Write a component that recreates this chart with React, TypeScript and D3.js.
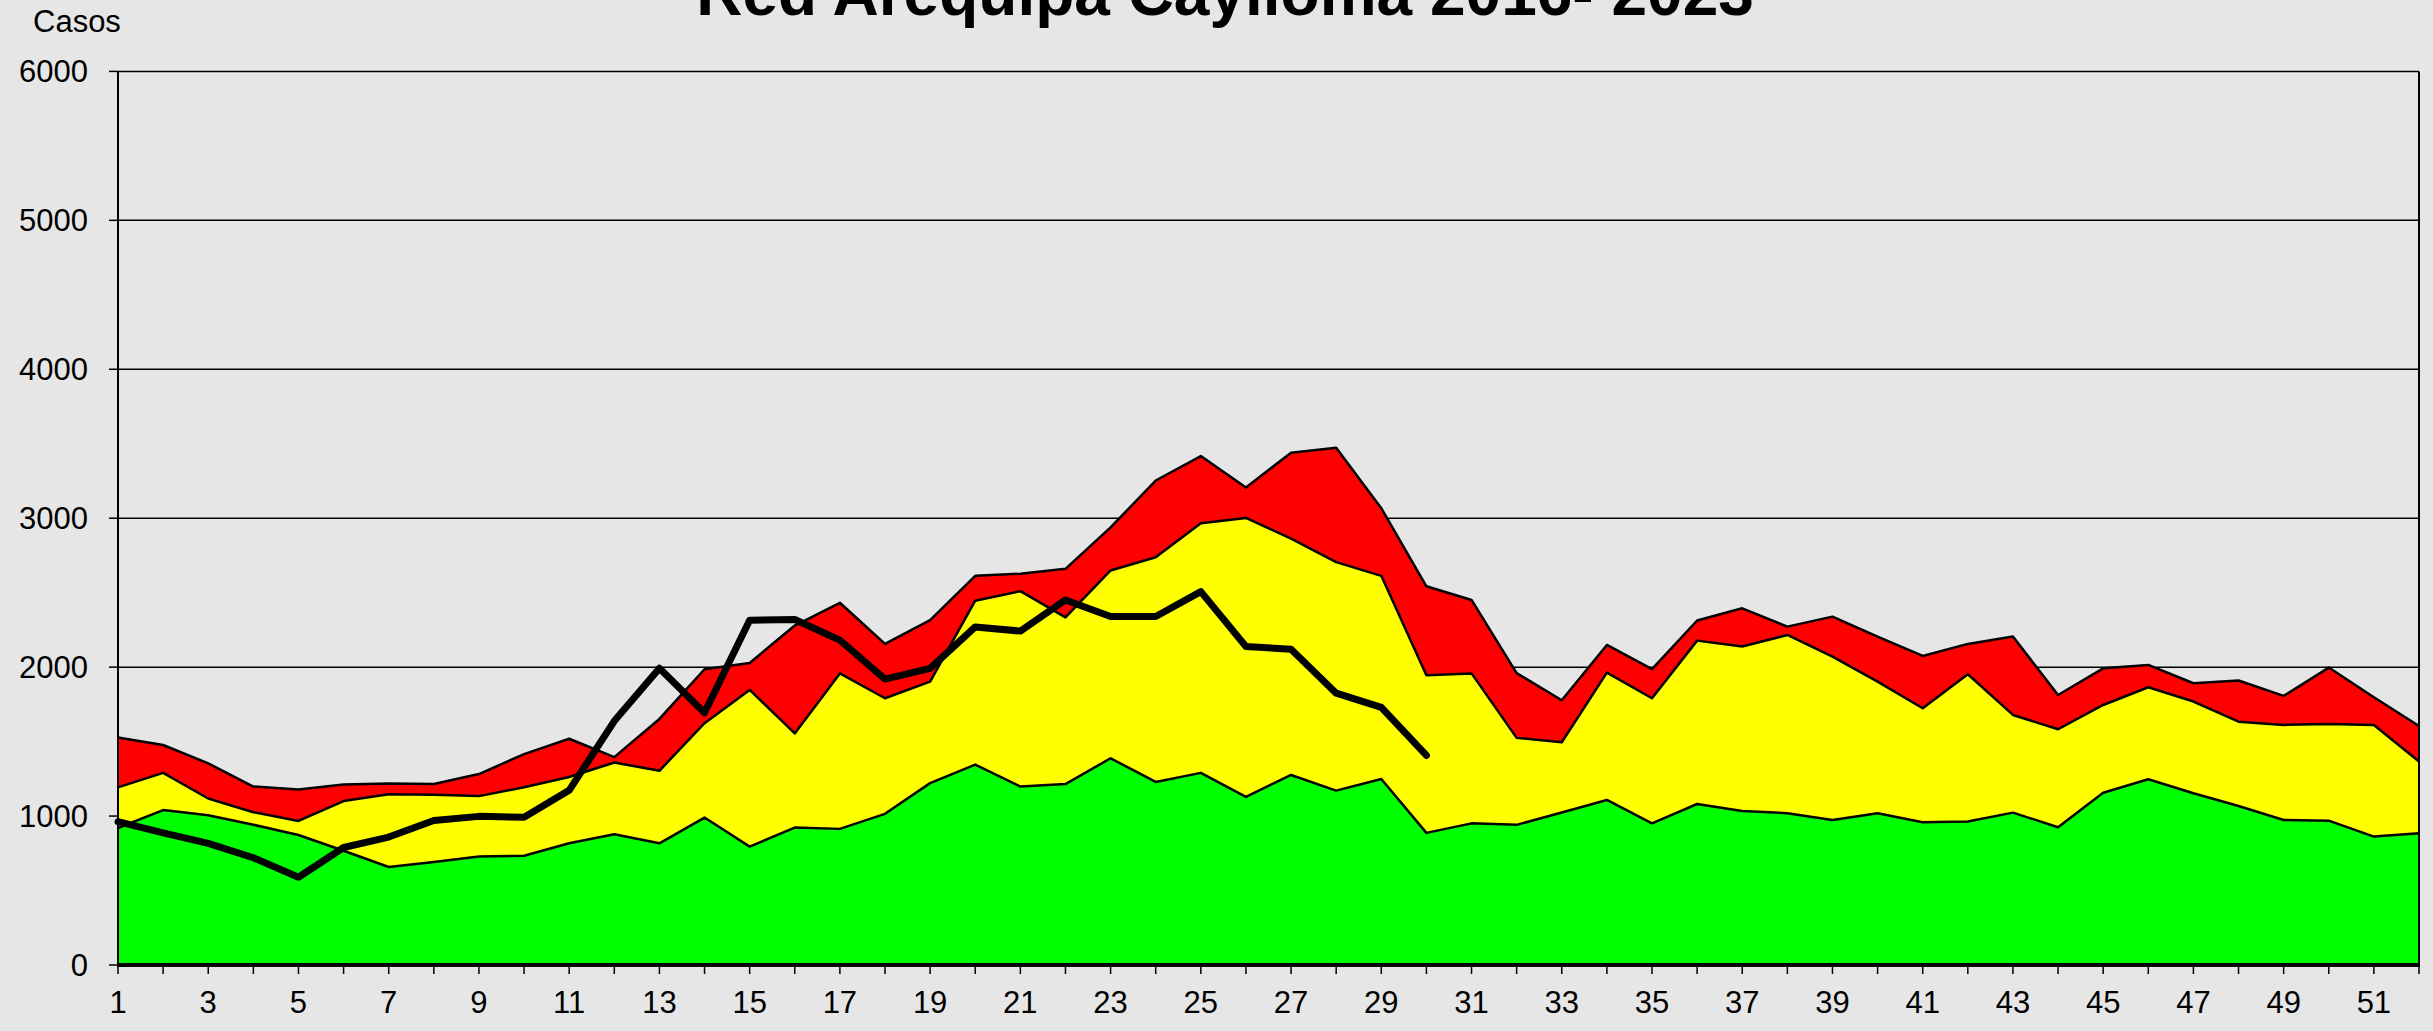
import * as React from "react";
import * as d3 from "d3";

// weeks (semanas epidemiologicas)
const weeks = [
  1, 2, 3, 4, 5, 6, 7, 8, 9, 10, 11, 12, 13, 14, 15, 16, 17, 18, 19, 20, 21, 22, 23, 24, 25, 26,
  27, 28, 29, 30, 31, 32, 33, 34, 35, 36, 37, 38, 39, 40, 41, 42, 43, 44, 45, 46, 47, 48, 49, 50, 51, 52,
];

// canal endemico: upper limits of each zone
const exito = [
  920, 1040, 1006, 942, 873, 767, 658, 692, 728, 734, 817, 878, 817, 990, 795, 923, 914, 1015, 1221, 1346,
  1198, 1215, 1388, 1229, 1290, 1129, 1276, 1171, 1249, 887, 951, 941, 1024, 1108, 951, 1081, 1034, 1019,
  974, 1019, 958, 963, 1023, 925, 1157, 1247, 1153, 1068, 974, 969, 862, 884,
];
const seguridad = [
  1193, 1290, 1118, 1026, 967, 1101, 1146, 1143, 1134, 1193, 1262, 1360, 1304, 1624, 1847, 1555, 1958, 1791,
  1903, 2446, 2510, 2334, 2649, 2738, 2966, 3002, 2863, 2705, 2613, 1945, 1958, 1525, 1496, 1963, 1791, 2178,
  2138, 2216, 2071, 1903, 1724, 1952, 1679, 1583, 1746, 1865, 1769, 1634, 1612, 1619, 1612, 1366,
];
const alarma = [
  1527, 1477, 1354, 1198, 1179, 1212, 1218, 1215, 1282, 1416, 1519, 1396, 1652, 1986, 2028, 2279, 2432, 2156,
  2315, 2613, 2627, 2660, 2938, 3253, 3417, 3206, 3440, 3473, 3067, 2543, 2451, 1960, 1778, 2149, 1986, 2313,
  2395, 2272, 2339, 2205, 2075, 2156, 2205, 1813, 1992, 2015, 1892, 1910, 1807, 1997, 1798, 1605,
];
// casos 2023 (semanas 1-30)
const casos2023 = [
  962, 887, 817, 720, 589, 789, 859, 970, 998, 992, 1173, 1638, 1992, 1694, 2315, 2320, 2181, 1920, 1992,
  2270, 2242, 2451, 2340, 2340, 2507, 2139, 2120, 1825, 1730, 1407,
];

const yTicks = [0, 1000, 2000, 3000, 4000, 5000, 6000];
const xLabels = weeks.filter((w) => w % 2 === 1);

const W = 2433;
const H = 1031;
const margin = { top: 71.4, right: 14, bottom: 66, left: 118 };
const FONT = "'Liberation Sans', Arial, sans-serif";

export default function App() {
  const x = d3.scaleLinear().domain([1, 52]).range([margin.left, W - margin.right]);
  const y = d3.scaleLinear().domain([0, 6000]).range([H - margin.bottom, margin.top]);

  const zones = [
    { values: alarma, color: "#FF0000" },
    { values: seguridad, color: "#FFFF00" },
    { values: exito, color: "#00FF00" },
  ];

  const area = d3
    .area<number>()
    .x((_, i) => x(weeks[i]))
    .y0(y(0))
    .y1((d) => y(d));
  const line = d3
    .line<number>()
    .x((_, i) => x(weeks[i]))
    .y((d) => y(d));

  const [x0, x1] = x.range();
  const [yb, yt] = y.range();

  return (
    <svg
      width={W}
      height={H}
      style={{ position: "absolute", left: 0, top: 0, display: "block" }}
      fontFamily={FONT}
    >
      <rect width={W} height={H} fill="#E6E6E6" />

      {/* gridlines */}
      {yTicks.slice(1).map((t) => (
        <line key={t} x1={x0} x2={x1} y1={y(t)} y2={y(t)} stroke="#000" strokeWidth={1.5} />
      ))}

      {/* zones */}
      {zones.map((z) => (
        <g key={z.color}>
          <path d={area(z.values) ?? ""} fill={z.color} />
          <path d={line(z.values) ?? ""} fill="none" stroke="#000" strokeWidth={2.5} strokeLinejoin="round" />
        </g>
      ))}

      {/* 2023 line */}
      <path
        d={line(casos2023) ?? ""}
        fill="none"
        stroke="#000"
        strokeWidth={7}
        strokeLinejoin="round"
        strokeLinecap="round"
      />

      {/* frame */}
      <line x1={x1} x2={x1} y1={yt} y2={yb} stroke="#000" strokeWidth={2} />
      <line x1={x0} x2={x0} y1={yt} y2={yb} stroke="#000" strokeWidth={2} />
      <line x1={x0 - 1} x2={x1 + 1} y1={yb} y2={yb} stroke="#000" strokeWidth={4} />

      {/* y axis */}
      {yTicks.map((t) => (
        <g key={t}>
          <line x1={x0 - 9} x2={x0} y1={y(t)} y2={y(t)} stroke="#000" strokeWidth={1.5} />
          <text x={88} y={y(t) + 11} textAnchor="end" fontSize={31} fill="#000">
            {t}
          </text>
        </g>
      ))}

      {/* x axis */}
      {weeks.map((w) => (
        <line key={w} x1={x(w)} x2={x(w)} y1={yb} y2={yb + 9} stroke="#000" strokeWidth={1.5} />
      ))}
      {xLabels.map((w) => (
        <text key={w} x={x(w)} y={1013} textAnchor="middle" fontSize={31} fill="#000">
          {w}
        </text>
      ))}

      <text x={33} y={32} fontSize={31} fill="#000">
        Casos
      </text>
      <text x={1225} y={15} textAnchor="middle" fontSize={64} fontWeight="bold" fill="#000">
        Red Arequipa Caylloma 2016- 2023
      </text>
    </svg>
  );
}
